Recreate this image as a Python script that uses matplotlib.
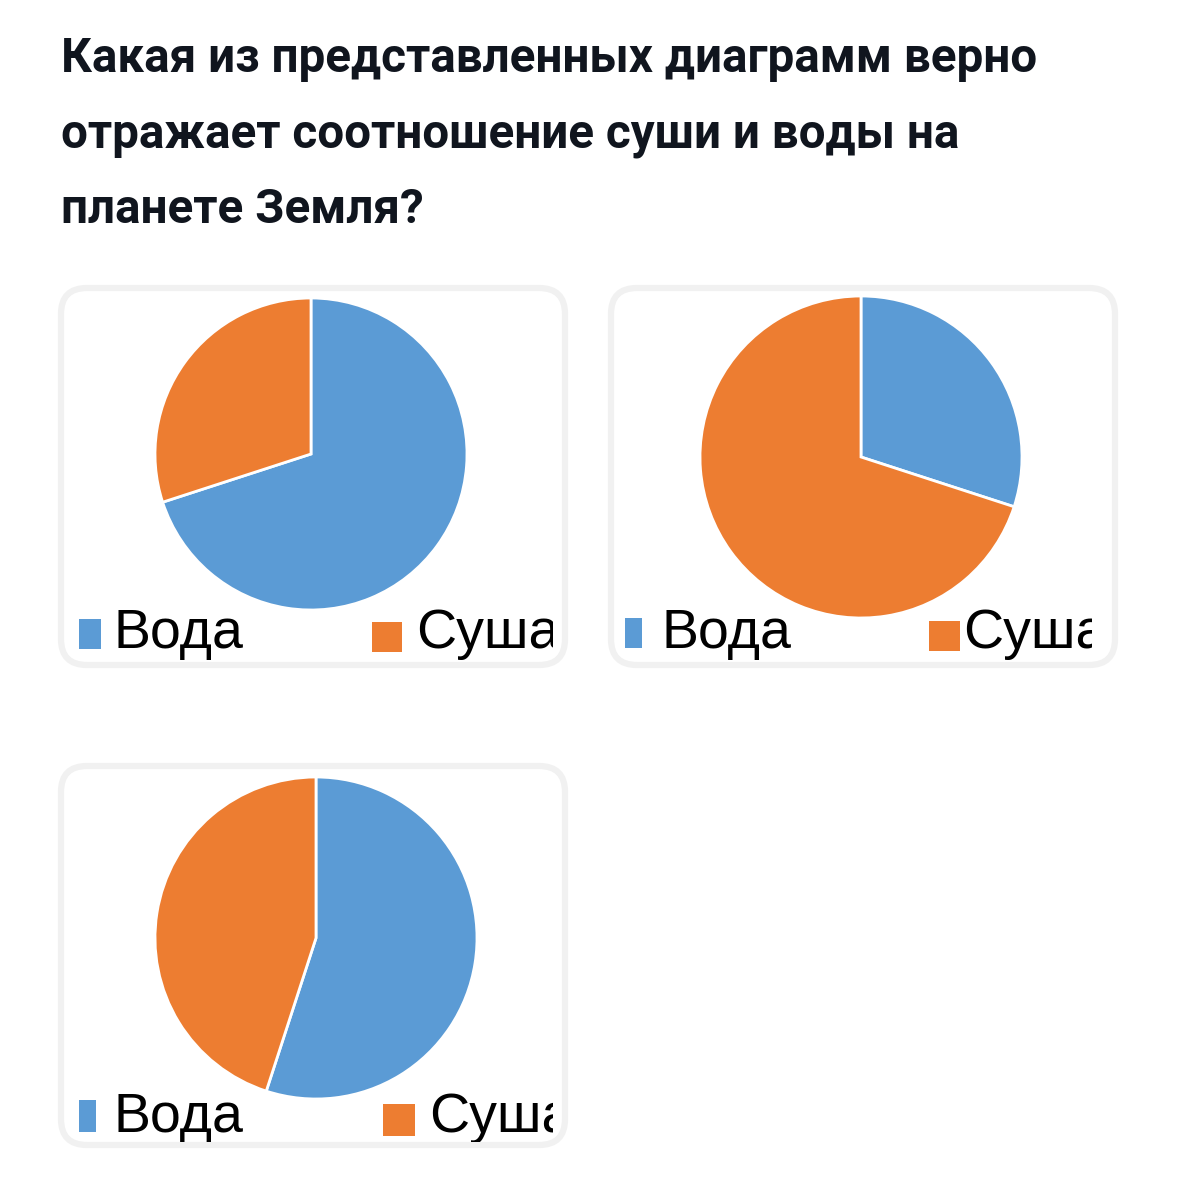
import matplotlib
import matplotlib.pyplot as plt
from matplotlib.patches import FancyBboxPatch, Rectangle

matplotlib.use('agg')

W, H = 1179, 1202
DPI = 100

# data
labels = ['Вода', 'Суша']
colors = ['#5B9BD5', '#ED7D31']
chart_a = [70, 30]
chart_b = [30, 70]
chart_c = [55, 45]

question = ['Какая из представленных диаграмм верно',
            'отражает соотношение суши и воды на',
            'планете Земля?']

# layout, in pixels (x0, y0, x1, y1) from top-left
panels = [
    {'box': (61, 288, 565, 665), 'pie': (311, 454, 156), 'values': chart_a,
     'clip': (64, 590, 553, 662),
     'marks': [(79, 619, 22, 30), (372, 622, 30, 30)],
     'texts': [(113, 648), (416, 648)]},
    {'box': (611, 288, 1115, 665), 'pie': (861, 457, 161), 'values': chart_b,
     'clip': (614, 590, 1092, 662),
     'marks': [(625, 618, 17, 30), (929, 621, 31, 30)],
     'texts': [(661, 648), (963, 648)]},
    {'box': (61, 766, 565, 1145), 'pie': (316, 938, 161), 'values': chart_c,
     'clip': (64, 1070, 553, 1142),
     'marks': [(79, 1100, 17, 32), (383, 1104, 32, 32)],
     'texts': [(113, 1132), (429, 1132)]},
]


def add_px_axes(fig, x0, y0, x1, y1):
    """Axes placed with pixel coords from the top-left corner."""
    return fig.add_axes([x0 / W, 1 - y1 / H, (x1 - x0) / W, (y1 - y0) / H])


fig = plt.figure(figsize=(W / DPI, H / DPI), dpi=DPI)
bg = fig.add_axes([0, 0, 1, 1])
bg.set_xlim(0, W)
bg.set_ylim(H, 0)
bg.axis('off')

for i, line in enumerate(question):
    bg.text(61, 72 + i * 75.5, line, fontsize=34.3, fontweight='bold',
            family=['Roboto', 'DejaVu Sans'], color='#10151E', va='baseline')

for p in panels:
    x0, y0, x1, y1 = p['box']
    bg.add_patch(FancyBboxPatch((x0, y0), x1 - x0, y1 - y0,
                                boxstyle='round,pad=0,rounding_size=26',
                                facecolor='white', edgecolor='#F1F1F1', lw=4.5))

    cx, cy, r = p['pie']
    pax = add_px_axes(fig, cx - r, cy - r, cx + r, cy + r)
    pax.pie(p['values'], colors=colors, startangle=90, counterclock=False,
            radius=1, wedgeprops={'edgecolor': 'white', 'linewidth': 2})
    pax.set_xlim(-1, 1)
    pax.set_ylim(-1, 1)
    pax.axis('off')

    # legend, clipped like the cropped screenshot
    c0, c1, c2, c3 = p['clip']
    lax = add_px_axes(fig, c0, c1, c2, c3)
    lax.set_xlim(c0, c2)
    lax.set_ylim(c3, c1)
    lax.axis('off')
    for (mx, my, mw, mh), (tx, ty), lab, col in zip(p['marks'], p['texts'], labels, colors):
        lax.add_patch(Rectangle((mx, my), mw, mh, facecolor=col, edgecolor='none'))
        lax.text(tx, ty, lab, fontsize=40, family='Liberation Sans', color='black',
                 va='baseline', clip_on=True)

plt.savefig('out.png', dpi=DPI)
plt.close()
